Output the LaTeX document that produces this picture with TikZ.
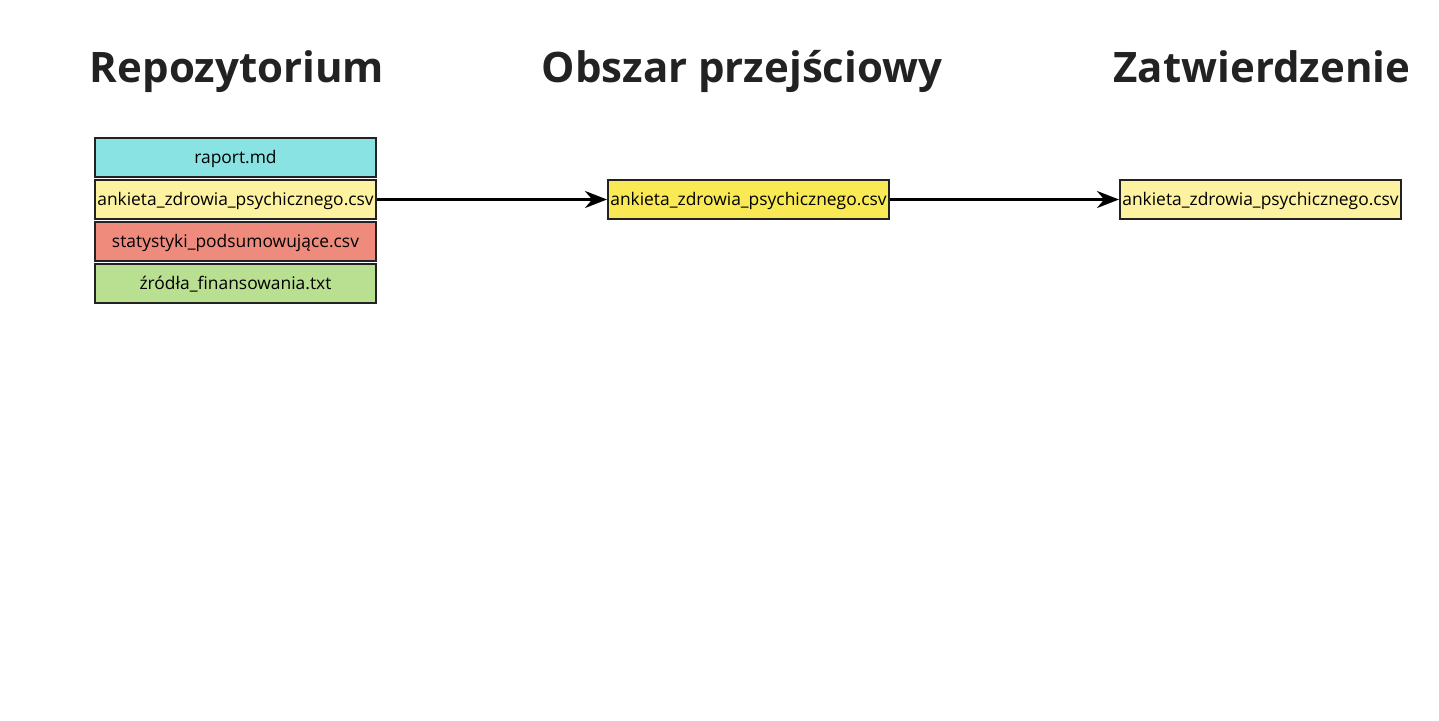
\documentclass[tikz,border=0pt]{standalone}
\usepackage{fontspec}
\setmainfont{Open Sans}
\usetikzlibrary{arrows.meta,positioning}

\definecolor{cyanfile}{HTML}{8AE3E3}
\definecolor{paleyellow}{HTML}{FCF2A0}
\definecolor{salmonfile}{HTML}{EF8B7D}
\definecolor{greenfile}{HTML}{B9DF90}
\definecolor{brightyellow}{HTML}{F9EA55}
\definecolor{inkgray}{HTML}{222222}

\begin{document}
\begin{tikzpicture}[x=1pt,y=1pt,>={Stealth[length=22pt,width=17pt]},auto,node distance=1pt]

                \useasboundingbox (0,0) rectangle (1439,-720);

                \tikzset{file/.style={draw=inkgray,line width=2pt,minimum width=281pt,minimum height=39pt,inner sep=0pt,text height=15pt,text depth=4pt,font=\fontsize{17.4}{20}\selectfont},
                         area/.style={anchor=base,font=\fontsize{42}{50}\selectfont\bfseries,text=inkgray}}

                \node[area] (repo) at (237,-82) {Repozytorium};
                \node[area] (stage) at (742,-82) {Obszar przejściowy};
                \node[area] (commit) at (1262,-82) {Zatwierdzenie};

                \node[file,fill=cyanfile] (raport) at (235.5,-157.5) {raport.md};
                \node[file,fill=paleyellow] (ankieta) [below=of raport] {ankieta\_zdrowia\_psychicznego.csv};
                \node[file,fill=salmonfile] (stat) [below=of ankieta] {statystyki\_podsumowujące.csv};
                \node[file,fill=greenfile] (zrodla) [below=of stat] {źródła\_finansowania.txt};

                \node[file,fill=brightyellow] (ankieta2) [right=230pt of ankieta] {ankieta\_zdrowia\_psychicznego.csv};
                \node[file,fill=paleyellow] (ankieta3) [right=229pt of ankieta2] {ankieta\_zdrowia\_psychicznego.csv};

                \path[->,draw=black,line width=2.6pt] (ankieta) edge (ankieta2)
                               (ankieta2) edge (ankieta3);

            \end{tikzpicture}
\end{document}
